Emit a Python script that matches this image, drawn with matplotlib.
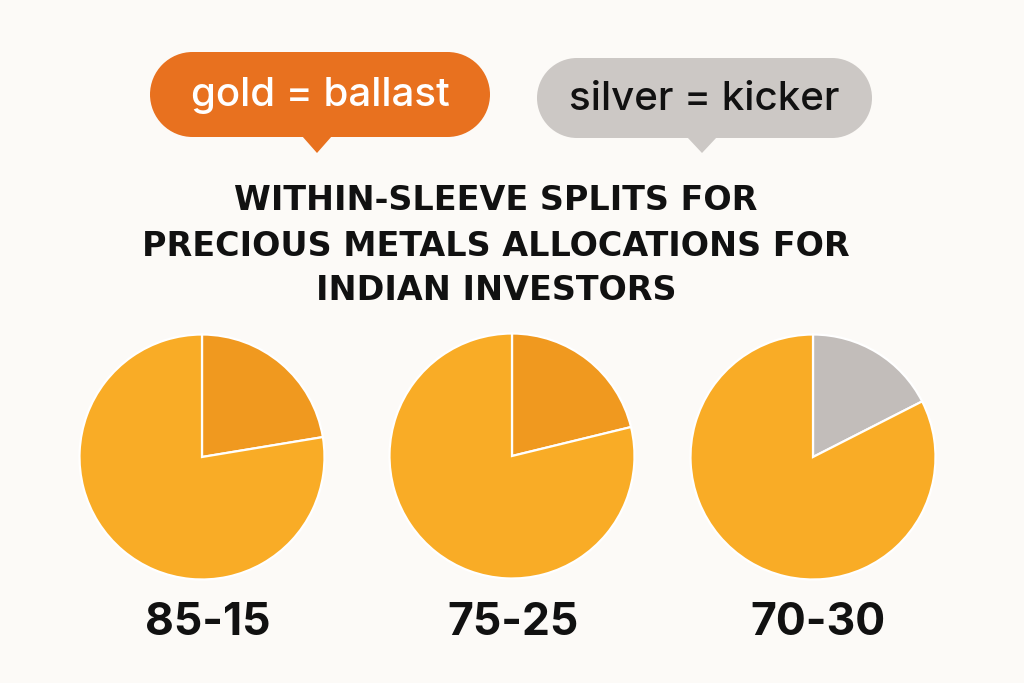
import matplotlib
matplotlib.use("Agg")
import matplotlib.pyplot as plt
from matplotlib.patches import Rectangle, Circle, Polygon

# ---- data ----
split_labels = ["85-15", "75-25", "70-30"]
small_share = [22.4, 21.2, 17.5]   # drawn size of the smaller wedge (%)
large_share = [77.6, 78.8, 82.5]   # drawn size of the gold wedge (%)
small_colors = ["#F0991F", "#F0991F", "#C2BDBA"]
gold_color = "#F9AC26"
title_lines = ["WITHIN-SLEEVE SPLITS FOR",
               "PRECIOUS METALS ALLOCATIONS FOR",
               "INDIAN INVESTORS"]
bubble_texts = ["gold = ballast", "silver = kicker"]

BG = "#FCFAF7"
W, H = 1024, 683
fig = plt.figure(figsize=(W / 100, H / 100), dpi=100, facecolor=BG)

# overlay axes in pixel coordinates
ov = fig.add_axes([0, 0, 1, 1])
ov.set_xlim(0, W)
ov.set_ylim(H, 0)
ov.axis("off")
ov.set_facecolor(BG)

def bubble(x0, y0, x1, y1, tipx, tipy, color, text, tcolor):
    h = y1 - y0
    r = h / 2
    ov.add_patch(Rectangle((x0 + r, y0), (x1 - x0) - 2 * r, h, fc=color, ec="none"))
    ov.add_patch(Circle((x0 + r, y0 + r), r, fc=color, ec="none"))
    ov.add_patch(Circle((x1 - r, y0 + r), r, fc=color, ec="none"))
    ov.add_patch(Polygon([[tipx - 15, y1 - 1], [tipx + 15, y1 - 1], [tipx, tipy]],
                         closed=True, fc=color, ec="none"))
    ov.text((x0 + x1) / 2, (y0 + y1) / 2 + 1, text, ha="center", va="center",
            fontsize=29, color=tcolor, family="Inter", fontweight="medium")

bubble(150, 52, 490, 137, 317, 153, "#E8711F", bubble_texts[0], "white")
bubble(537, 58, 872, 138, 702, 153, "#CCC8C5", bubble_texts[1], "#111111")

title_y = [200, 246, 291]
for line, y in zip(title_lines, title_y):
    ov.text(496, y, line, ha="center", va="center", fontsize=24,
            family="DejaVu Sans", fontweight="bold", color="#111111")

# pies
centers = [(202, 457), (512, 456), (813, 457)]
R = 122.5
label_x = [208, 513, 818]
for i, (cx, cy) in enumerate(centers):
    ax = fig.add_axes([(cx - R) / W, (H - cy - R) / H, 2 * R / W, 2 * R / H])
    ax.pie([small_share[i], large_share[i]], colors=[small_colors[i], gold_color],
           startangle=90, counterclock=False, radius=1,
           wedgeprops=dict(edgecolor="white", linewidth=1.6))
    ax.set_xlim(-1, 1)
    ax.set_ylim(-1, 1)
    ax.set_aspect("equal")
    ax.axis("off")
    ov.text(label_x[i], 623, split_labels[i], ha="center", va="center",
            fontsize=32, family="Inter", fontweight="bold", color="#111111")

fig.savefig("out.png", dpi=100, facecolor=BG)
